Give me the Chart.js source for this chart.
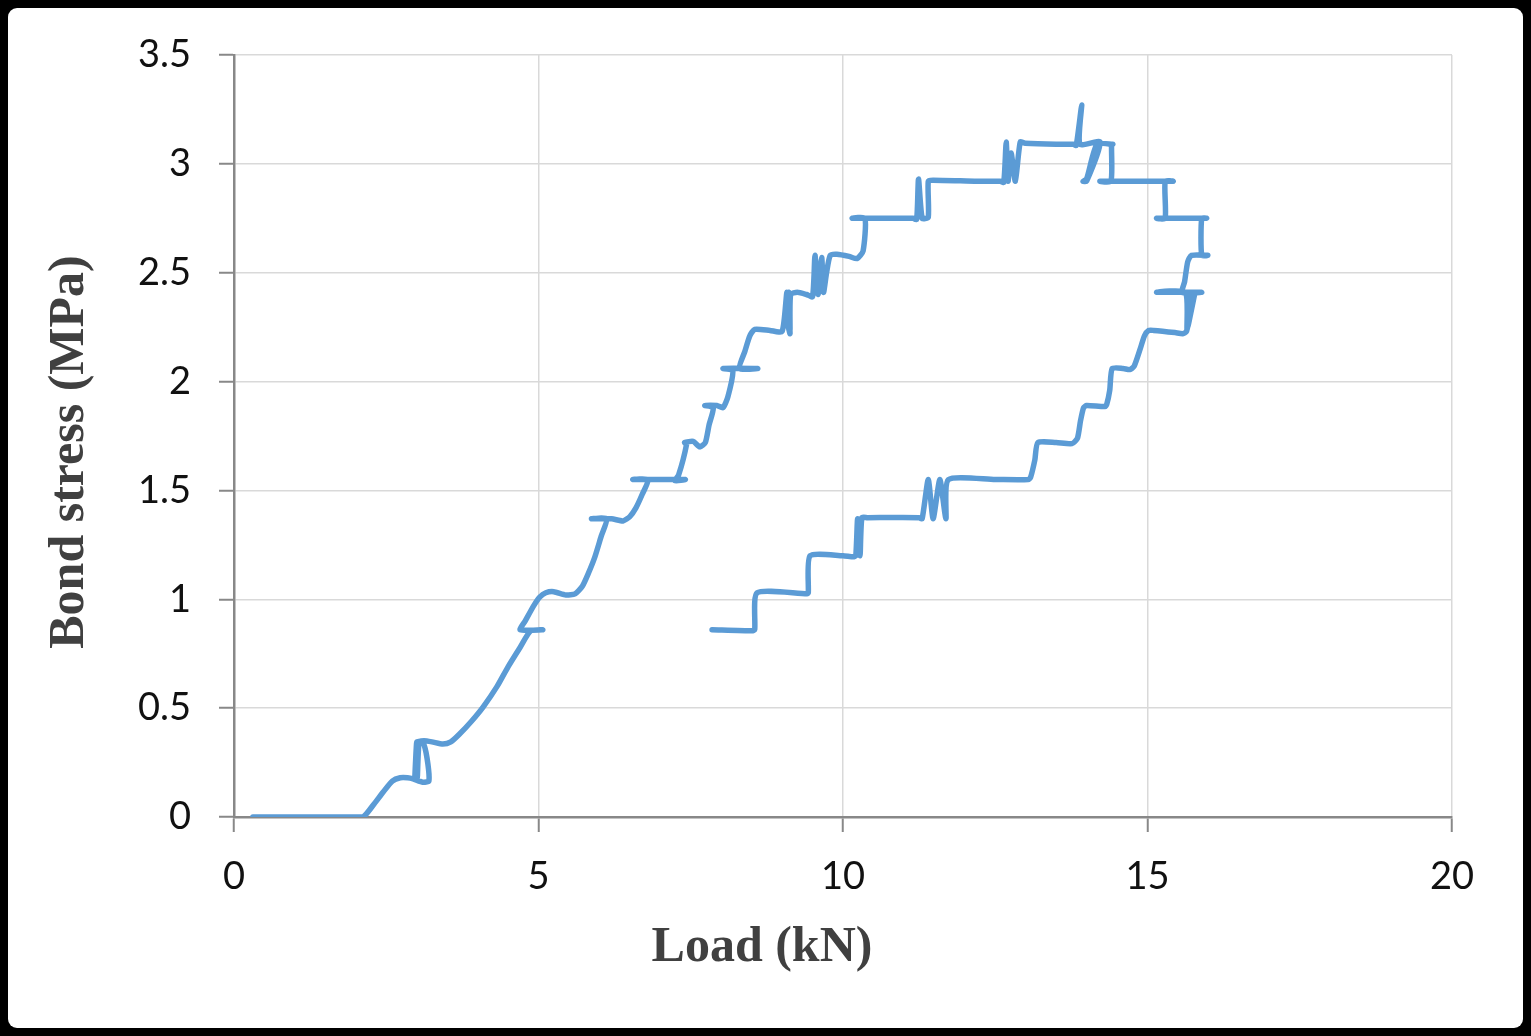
<!DOCTYPE html>
<html>
<head>
<meta charset="utf-8">
<script src="https://cdn.jsdelivr.net/npm/chart.js@4.4.1/dist/chart.umd.min.js"></script>
<style>
  html, body { margin: 0; padding: 0; background: #000; }
  #frame { position: relative; width: 1531px; height: 1036px; background: #000; overflow: hidden; }
  #inner { position: absolute; left: 8px; top: 8px; right: 8px; bottom: 8px; background: #fff; border-radius: 9px; }
  #c { position: absolute; left: 0; top: 0; }
</style>
</head>
<body>
<div id="frame">
  <div id="inner"></div>
  <canvas id="c" width="1531" height="1036"></canvas>
</div>
<script>
// ---- Data ----
const xTicks = [0, 5, 10, 15, 20];
const xTickLabels = ["0", "5", "10", "15", "20"];
const yTicks = [0, 0.5, 1, 1.5, 2, 2.5, 3, 3.5];
const yTickLabels = ["0", "0.5", "1", "1.5", "2", "2.5", "3", "3.5"];
const xTitle = "Load (kN)";
const yTitle = "Bond stress (MPa)";

// Rising branch (load kN, bond stress MPa)
const loadRise = [0.31,1.0,1.69,1.9,2.12,2.3,2.45,2.6,2.73,2.85,2.94,3.1,3.2,3.17,3.1,3.02,2.97,3.0,3.01,3.04,3.12,3.25,3.43,3.56,3.7,3.9,4.09,4.32,4.5,4.7,4.87,5.07,4.70,4.78,4.92,5.02,5.12,5.25,5.45,5.6,5.72,5.82,5.92,6.03,6.12,5.87,6.2,6.39,6.5,6.6,6.7,6.8,6.55,7.41,7.24,7.3,7.43,7.40,7.54,7.65,7.74,7.8,7.87,7.73,7.93,8.03,8.11,8.19,8.03,8.60,8.30,8.39,8.47,8.55,8.8,9.0,9.08,9.13,9.06,9.11,9.13,9.14,9.25,9.4,9.5,9.54,9.59,9.65,9.68,9.73,9.79,9.9,10.1,10.23,10.33,10.36,10.15,10.5,11.15,11.21,11.24,11.30,11.40,11.40,11.48,12.2,12.58,12.64,12.68,12.71,12.76,12.83,12.91,12.99,13.5,13.78,13.83,13.92,13.89];
const stressRise = [0,0,0,0,0,0.06,0.115,0.165,0.18,0.18,0.175,0.16,0.165,0.27,0.345,0.345,0.18,0.345,0.18,0.345,0.35,0.345,0.335,0.345,0.38,0.44,0.505,0.60,0.69,0.78,0.855,0.86,0.86,0.9,0.97,1.01,1.03,1.035,1.02,1.025,1.06,1.12,1.19,1.29,1.37,1.37,1.37,1.36,1.38,1.42,1.48,1.55,1.55,1.55,1.545,1.57,1.71,1.72,1.725,1.70,1.72,1.8,1.88,1.89,1.89,1.88,1.93,2.05,2.06,2.06,2.06,2.14,2.21,2.24,2.235,2.23,2.41,2.22,2.32,2.41,2.24,2.40,2.41,2.40,2.39,2.58,2.40,2.57,2.41,2.5,2.58,2.585,2.575,2.565,2.6,2.75,2.75,2.75,2.75,2.745,2.93,2.75,2.755,2.92,2.925,2.92,2.92,2.915,3.10,2.92,3.05,2.92,3.10,3.095,3.09,3.09,3.085,3.27,3.09];

// Falling branch (load kN, bond stress MPa)
const loadFall = [14.22,14.0,13.94,14.0,14.17,14.43,14.41,14.40,14.22,15.42,15.29,15.29,15.15,15.97,15.89,15.89,15.99,15.72,15.66,15.61,15.57,15.89,15.15,15.62,15.65,15.72,15.66,15.78,15.64,15.58,15.45,15.1,15.02,14.95,14.88,14.78,14.71,14.6,14.42,14.38,14.33,14.30,14.0,13.95,13.9,13.85,13.76,13.5,13.20,13.15,13.08,13.04,12.5,11.73,11.69,11.59,11.48,11.40,11.30,11.25,10.4,10.31,10.28,10.24,10.21,10.17,10.0,9.46,9.43,9.41,8.59,8.55,8.51,7.85];
const stressFall = [3.10,2.92,2.92,2.93,3.09,3.09,3.09,2.92,2.92,2.92,2.92,2.75,2.75,2.75,2.75,2.58,2.58,2.58,2.55,2.46,2.41,2.41,2.41,2.41,2.24,2.41,2.25,2.41,2.23,2.22,2.225,2.235,2.235,2.21,2.15,2.07,2.055,2.06,2.06,1.96,1.895,1.885,1.89,1.88,1.82,1.74,1.715,1.72,1.72,1.64,1.56,1.55,1.55,1.55,1.37,1.55,1.37,1.55,1.37,1.375,1.375,1.375,1.20,1.37,1.20,1.195,1.20,1.20,1.03,1.025,1.03,0.86,0.855,0.86];

// ---- Build points ----
const loadAll = loadRise.concat(loadFall);
const stressAll = stressRise.concat(stressFall);
const points = loadAll.map((x, i) => ({ x: x, y: stressAll[i] }));

const titlePlugin = {
  id: 'axisTitles',
  afterDraw(chart) {
    const ctx = chart.ctx;
    ctx.save();
    ctx.fillStyle = '#404040';
    ctx.font = 'bold 50px "Liberation Serif", "Times New Roman", serif';
    ctx.textAlign = 'center';
    ctx.textBaseline = 'middle';
    ctx.fillText(xTitle, 762, 948);
    ctx.translate(70, 452);
    ctx.rotate(-Math.PI / 2);
    ctx.fillText(yTitle, 0, 0);
    ctx.restore();
  }
};

new Chart(document.getElementById('c'), {
  type: 'scatter',
  data: {
    datasets: [{
      data: points,
      showLine: true,
      borderColor: '#5B9BD5',
      backgroundColor: '#5B9BD5',
      borderWidth: 5.5,
      pointRadius: 0,
      pointHoverRadius: 0,
      tension: 0.2,
      borderCapStyle: 'round',
      borderJoinStyle: 'round',
      fill: false
    }]
  },
  options: {
    responsive: false,
    devicePixelRatio: 1,
    animation: false,
    layout: { padding: { left: 0, top: 55, right: 79, bottom: 0 } },
    plugins: { legend: { display: false }, tooltip: { enabled: false } },
    scales: {
      x: {
        type: 'linear',
        min: 0, max: 20,
        afterBuildTicks: (s) => { s.ticks = xTicks.map(v => ({ value: v })); },
        afterFit: (s) => { s.height = 219; },
        ticks: {
          callback: (v) => xTickLabels[xTicks.indexOf(v)],
          font: { family: 'Lato', size: 38 },
          color: '#111',
          padding: 22,
          maxRotation: 0
        },
        grid: { color: '#d9d9d9', lineWidth: 1.5, tickColor: '#888', tickLength: 15, tickWidth: 2 },
        border: { display: true, color: '#888', width: 2.5 }
      },
      y: {
        type: 'linear',
        min: 0, max: 3.5,
        afterBuildTicks: (s) => { s.ticks = yTicks.map(v => ({ value: v })); },
        afterFit: (s) => { s.width = 234; },
        ticks: {
          callback: (v) => yTickLabels[yTicks.indexOf(v)],
          font: { family: 'Lato', size: 38 },
          color: '#111',
          padding: 28
        },
        grid: { color: '#d9d9d9', lineWidth: 1.5, tickColor: '#888', tickLength: 15, tickWidth: 2 },
        border: { display: true, color: '#888', width: 2.5 }
      }
    }
  },
  plugins: [titlePlugin]
});
</script>
</body>
</html>
